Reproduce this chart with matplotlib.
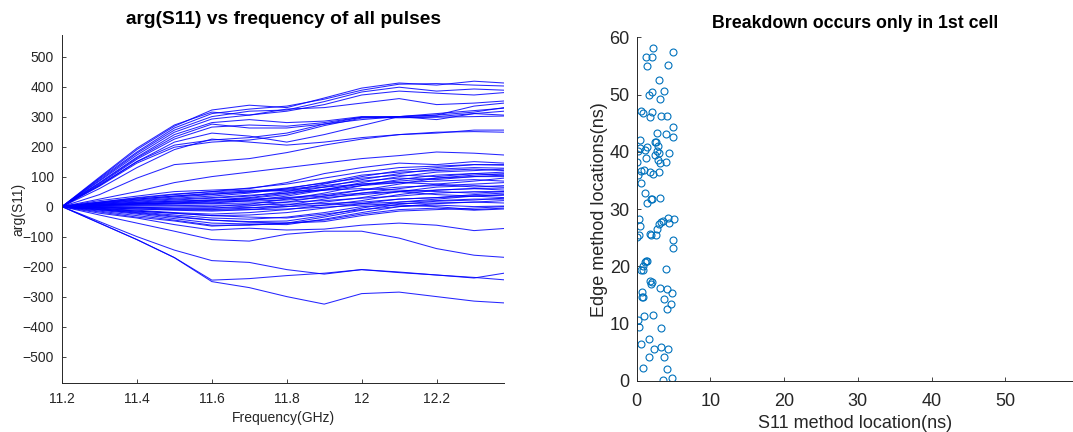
import numpy as np
import matplotlib.pyplot as plt

plt.rcParams['font.family'] = ['Liberation Sans', 'DejaVu Sans']

# frequency points (GHz) where each pulse's phase is sampled
freq = [11.2, 11.3, 11.4, 11.5, 11.6, 11.7, 11.8, 11.9, 12.0, 12.1, 12.2, 12.3, 12.38]

# arg(S11) traces, one list per pulse
upper_pulses = [
    [0, 95, 190, 268, 322, 338, 330, 362, 395, 412, 405, 418, 412],
    [0, 92, 182, 262, 310, 325, 335, 358, 388, 408, 410, 405, 402],
    [0, 88, 178, 255, 300, 318, 322, 350, 382, 398, 385, 392, 388],
    [0, 85, 172, 248, 292, 305, 318, 340, 372, 385, 378, 372, 380],
    [0, 98, 195, 272, 315, 305, 325, 330, 345, 360, 340, 345, 352],
    [0, 80, 165, 240, 280, 290, 280, 285, 300, 300, 305, 335, 345],
    [0, 72, 150, 205, 222, 230, 245, 275, 298, 300, 310, 320, 328],
    [0, 68, 145, 198, 215, 222, 238, 270, 295, 298, 300, 310, 318],
    [0, 75, 158, 225, 265, 272, 268, 280, 298, 296, 298, 300, 302],
    [0, 78, 162, 232, 275, 262, 262, 275, 290, 300, 290, 310, 305],
    [0, 70, 150, 215, 245, 235, 215, 240, 270, 300, 305, 315, 330],
    [0, 60, 130, 190, 225, 215, 205, 215, 230, 240, 248, 250, 248],
    [0, 40, 95, 140, 150, 160, 180, 205, 225, 240, 245, 255, 255],
    [0, 25, 50, 80, 100, 115, 130, 145, 160, 170, 182, 178, 172],
    [0, 20, 35, 50, 55, 60, 80, 110, 130, 145, 140, 150, 145],
    [0, 15, 28, 40, 50, 62, 75, 95, 115, 130, 135, 140, 138],
]

middle_pulses = [
    [0, -15, -30, -45, -62, -62, -55, -35, -12, 8, 18, 22, 28],
    [0, -12, -25, -40, -55, -58, -60, -42, -20, 0, 10, 15, 20],
    [0, -10, -22, -35, -45, -50, -48, -30, -5, 15, 25, 35, 40],
    [0, -8, -18, -28, -38, -42, -35, -20, 0, 5, 0, -10, -5],
    [0, -5, -15, -22, -30, -28, -20, -5, 10, 25, 30, 40, 45],
    [0, -6, -12, -20, -25, -20, -10, 5, 20, 40, 55, 60, 55],
    [0, -3, -8, -12, -15, -10, 0, 15, 30, 50, 65, 70, 65],
    [0, -2, -5, -8, -10, -5, 5, 25, 45, 60, 75, 85, 95],
    [0, 0, -2, -5, -5, 2, 15, 35, 55, 75, 95, 100, 105],
    [0, 2, 3, 2, 0, 8, 25, 45, 70, 90, 105, 110, 115],
    [0, 4, 8, 10, 12, 20, 35, 55, 80, 100, 115, 120, 125],
    [0, 6, 12, 18, 22, 30, 45, 65, 90, 110, 125, 130, 128],
    [0, 8, 15, 22, 28, 35, 50, 75, 100, 120, 130, 140, 140],
    [0, 10, 20, 28, 35, 45, 60, 80, 105, 115, 120, 125, 120],
    [0, 12, 22, 32, 40, 50, 62, 78, 95, 105, 100, 110, 105],
    [0, 14, 25, 35, 45, 52, 58, 70, 85, 95, 90, 100, 100],
    [0, 10, 18, 25, 30, 38, 45, 55, 70, 80, 85, 90, 85],
    [0, 8, 14, 18, 22, 25, 30, 40, 55, 65, 70, 75, 80],
    [0, 5, 10, 12, 15, 18, 22, 30, 40, 50, 55, 60, 62],
    [0, 3, 6, 8, 10, 12, 15, 20, 28, 35, 45, 50, 50],
    [0, 1, 2, 3, 5, 5, 8, 10, 15, 25, 30, 35, 38],
    [0, -2, -3, -5, -5, -3, 0, 5, 10, 15, 20, 25, 25],
    [0, -4, -8, -10, -12, -10, -8, -2, 5, 10, 12, 15, 12],
    [0, -8, -15, -22, -30, -35, -38, -25, -10, 0, 5, 0, 2],
    [0, -10, -20, -32, -45, -52, -55, -45, -25, -10, -5, -12, -8],
    [0, -18, -35, -48, -65, -60, -55, -50, -30, -15, -10, -5, 0],
    [0, 6, 10, 15, 20, 28, 40, 58, 75, 85, 95, 105, 110],
    [0, 12, 25, 35, 42, 48, 55, 65, 75, 80, 75, 65, 70],
    [0, 15, 30, 42, 50, 55, 52, 55, 60, 55, 50, 45, 50],
    [0, 4, 8, 12, 18, 22, 28, 35, 45, 50, 40, 35, 30],
]

lower_pulses = [
    [0, -22, -38, -60, -78, -72, -78, -75, -62, -55, -62, -80, -73],
    [0, -28, -55, -82, -110, -115, -92, -82, -82, -105, -140, -162, -169],
    [0, -50, -100, -145, -180, -186, -210, -225, -210, -218, -228, -238, -222],
    [0, -55, -110, -170, -245, -240, -230, -222, -210, -220, -228, -236, -244],
    [0, -55, -110, -170, -250, -270, -300, -325, -290, -285, -300, -315, -321],
]

# breakdown positions found by the two methods (ns)
s11_loc = [2.26, 4.9, 1.27, 2.1, 1.45, 4.2, 3.08, 2.1, 3.67, 1.6, 3.2, 0.54, 0.86, 2.1,
           1.8, 3.35, 4.07, 4.9, 4.9, 2.8, 3.94, 0.45, 2.44, 2.6, 2.94, 1.45, 0.45, 1.1,
           0.23, 2.8, 3.03, 4.34, 2.5, 1.27, 2.9, 3.1, 0.0, 4.0, 0.95, 0.54, 1.8, 2.17,
           3.0, 0.18, 0.6, 1.18, 2.1, 3.2, 1.45, 1.95, 0.36, 0.45, 5.07, 4.3, 4.43, 3.26,
           3.57, 3.08, 2.7, 0.0, 0.36, 1.8, 2.0, 2.67, 4.9, 4.9, 1.27, 1.45, 1.13, 0.81,
           0.63, 0.86, 4.03, 1.8, 2.03, 1.95, 3.2, 4.07, 4.8, 0.68, 0.72, 0.86, 3.67, 4.66,
           4.07, 2.26, 0.95, 0.23, 0.32, 3.35, 1.72, 0.54, 2.4, 3.35, 4.2, 1.72, 3.67, 0.86,
           4.07, 3.53, 4.75]
edge_loc = [58.1, 57.4, 56.6, 56.6, 54.9, 55.1, 52.6, 50.5, 50.6, 49.9, 49.2, 47.1, 46.7, 46.9,
            46.0, 46.2, 46.2, 44.4, 42.6, 43.3, 43.1, 42.1, 41.7, 41.7, 41.1, 40.9, 40.6, 40.4,
            40.1, 40.2, 39.8, 39.8, 39.4, 38.9, 38.6, 38.1, 38.3, 38.3, 36.8, 36.7, 36.5, 36.1,
            36.5, 36.0, 34.5, 32.8, 31.8, 31.9, 31.1, 31.8, 28.3, 27.1, 28.3, 28.5, 27.6, 27.7,
            27.9, 27.4, 26.5, 25.2, 25.4, 25.6, 25.5, 25.4, 24.6, 23.3, 21.0, 21.0, 20.7, 20.1,
            19.3, 19.3, 19.6, 17.5, 17.3, 16.9, 16.2, 16.0, 15.3, 15.5, 14.7, 14.7, 14.3, 13.5,
            12.6, 11.6, 11.4, 10.7, 9.4, 9.2, 7.3, 6.4, 5.6, 5.9, 5.5, 4.2, 4.2, 2.3,
            2.1, 0.1, 0.5]

axis_col = '#262626'

fig = plt.figure(figsize=(10.73, 4.32), dpi=100)

# ---- phase vs frequency
ax1 = fig.add_axes([0.0578, 0.1127, 0.4119, 0.8063])
for trace in upper_pulses + middle_pulses + lower_pulses:
    ax1.plot(freq, trace, color=(0, 0, 1), lw=0.75, alpha=0.85)
ax1.set_xlim(11.2, 12.38)
ax1.set_ylim(-589, 572)
ax1.set_xticks([11.2, 11.4, 11.6, 11.8, 12.0, 12.2])
ax1.set_xticklabels(['11.2', '11.4', '11.6', '11.8', '12', '12.2'])
ax1.set_yticks(np.arange(-500, 501, 100))
ax1.set_title('arg(S11) vs frequency of all pulses', fontsize=13.8, fontweight='bold', pad=8)
ax1.set_xlabel('Frequency(GHz)', fontsize=10, color=axis_col, labelpad=4)
ax1.set_ylabel('arg(S11)', fontsize=10, color=axis_col, labelpad=-2)
ax1.tick_params(direction='in', length=3, width=0.6, labelsize=10, colors=axis_col, pad=6)

# ---- S11 location vs edge location
ax2 = fig.add_axes([0.5934, 0.1181, 0.4066, 0.7956])
ax2.plot(s11_loc, edge_loc, 'o', mfc='none', mec='#0072BD', ms=5, mew=0.8)
ax2.set_xlim(0, 59.2)
ax2.set_ylim(0, 60)
ax2.set_xticks([0, 10, 20, 30, 40, 50])
ax2.set_yticks([0, 10, 20, 30, 40, 50, 60])
ax2.set_title('Breakdown occurs only in 1st cell', fontsize=12.8, fontweight='bold', pad=7)
ax2.set_xlabel('S11 method location(ns)', fontsize=13, color=axis_col, labelpad=3)
ax2.set_ylabel('Edge method locations(ns)', fontsize=13, color=axis_col, labelpad=1)
ax2.tick_params(direction='in', length=3, width=0.6, labelsize=13, colors=axis_col, pad=5)
ax2.tick_params(axis='x', pad=9)

for ax in (ax1, ax2):
    ax.spines['top'].set_visible(False)
    ax.spines['right'].set_visible(False)
    for side in ('left', 'bottom'):
        ax.spines[side].set_color(axis_col)
        ax.spines[side].set_linewidth(0.7)

fig.savefig('out.png', dpi=100)
